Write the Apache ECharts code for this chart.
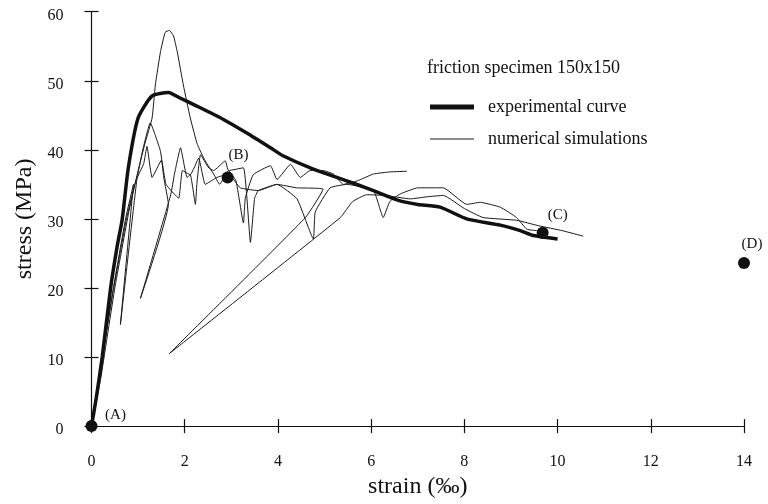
<!DOCTYPE html>
<html>
<head>
<meta charset="utf-8">
<script src="https://cdn.jsdelivr.net/npm/echarts@6/dist/echarts.min.js"></script>
<style>
  html, body { margin: 0; padding: 0; background: #fff; }
  #chart { width: 768px; height: 504px; }
</style>
</head>
<body>
<div id="chart"></div>
<script>
// Axis ticks
const strainTicks = [0, 2, 4, 6, 8, 10, 12, 14];
const stressTicks = [0, 10, 20, 30, 40, 50, 60];

// Experimental stress-strain curve [strain ‰, stress MPa]
const experimental = [
  [0, 0], [0.1, 4], [0.23, 10], [0.41, 20], [0.55, 26], [0.66, 30], [0.79, 37.4],
  [1.0, 44.6], [1.3, 47.8], [1.65, 48.3], [1.9, 47.5], [2.27, 46.3], [2.83, 44.4],
  [3.34, 42.4], [3.84, 40.3], [4.12, 39.1], [4.76, 37.2], [5.4, 35.7], [6.05, 34.1],
  [6.62, 32.6], [7.0, 32.1], [7.48, 31.7], [8.05, 30.0], [8.77, 29.1], [9.2, 28.3],
  [9.48, 27.6], [10.0, 27.1]
];

// Numerical simulations
const simulation1 = [
  [0, 0], [0.2, 7], [0.5, 20], [0.8, 31], [1.0, 37], [1.15, 41], [1.3, 44.6], [1.37, 49.4],
  [1.48, 54.2], [1.58, 57], [1.67, 57.3], [1.76, 56.5], [1.84, 54.2], [1.97, 49.4],
  [2.12, 44.6], [2.27, 40.8], [2.44, 38.4], [2.62, 36.5], [2.75, 35], [2.94, 37], [3.1, 35.5],
  [3.26, 29.4], [3.3, 33], [3.47, 36.4], [3.84, 37.7], [3.98, 35.7], [4.27, 37.9], [4.48, 36],
  [4.69, 37], [4.97, 37], [5.19, 36.5], [5.4, 35], [5.7, 35.5], [6.05, 36.5], [6.4, 36.8],
  [6.77, 36.9]
];
const simulation2 = [
  [0, 0], [0.47, 20], [0.73, 30], [0.9, 35], [0.62, 14.7], [0.97, 35.5], [1.1, 40],
  [1.26, 43.9], [1.48, 39.8], [1.55, 36], [1.65, 32.1], [1.05, 18.5], [1.7, 33.5],
  [1.78, 36.5], [1.91, 40.3], [2.05, 36], [2.12, 36.4], [2.23, 32.1], [2.26, 35],
  [2.34, 39.3], [2.5, 37.5], [2.62, 37], [2.87, 38.4], [2.94, 37], [3.26, 37.4],
  [3.41, 26.6], [3.5, 33], [3.58, 34.1], [3.98, 35], [4.41, 32.9], [4.76, 27.1], [4.8, 31],
  [5.12, 34.5], [5.48, 35], [6.05, 34.1], [6.26, 30.2], [6.4, 32.5], [6.62, 33.6],
  [7.0, 34.5], [7.33, 34.5], [7.55, 34.5], [8.05, 32.1], [8.34, 32.4], [8.77, 31.7],
  [9.12, 30.2], [9.34, 28.5], [9.58, 28.3]
];
const simulation3 = [
  [0, 0], [0.45, 19], [0.75, 30], [0.95, 35.5], [1.12, 38], [1.19, 40.5], [1.3, 36],
  [1.5, 38.5], [1.6, 35], [1.87, 33], [1.95, 37], [2.12, 36.4], [2.3, 38.8], [2.44, 35],
  [2.69, 36], [2.94, 36.5], [3.19, 34.5], [3.58, 34.1], [3.98, 35], [4.4, 34.5],
  [4.97, 34.3], [4.59, 30.2], [1.67, 10.5], [5.34, 30.2], [5.6, 32.5], [5.9, 33.5],
  [6.3, 33.4], [6.84, 32.9], [7.2, 33.2], [7.55, 33.4], [8.0, 31.5], [8.4, 30.2],
  [9.12, 29.8], [9.6, 29.0], [10.1, 28.3], [10.55, 27.5]
];

// Marked states
const pointNames = ['(A)', '(B)', '(C)', '(D)'];
const pointStrain = [0, 2.92, 9.68, 14.0];
const pointStress = [0, 36.0, 28.0, 23.6];

const serif = '"Liberation Serif", "DejaVu Serif", serif';
const ink = '#111';

const labelOffsets = [[24, -11], [11, -22], [15, -18], [8, -19]];

const simSeries = [simulation1, simulation2, simulation3].map(d => ({
  name: 'numerical simulations',
  type: 'line',
  data: d,
  symbol: 'none',
  smooth: 0.12,
  lineStyle: { color: '#1a1a1a', width: 1 },
  itemStyle: { color: '#1a1a1a' },
  z: 2,
  silent: true
}));

const baseX = {
  type: 'value', min: strainTicks[0], max: strainTicks[strainTicks.length - 1],
  interval: strainTicks[1] - strainTicks[0], position: 'bottom',
  splitLine: { show: false }
};
const baseY = {
  type: 'value', min: stressTicks[0], max: stressTicks[stressTicks.length - 1],
  interval: stressTicks[1] - stressTicks[0], position: 'left',
  splitLine: { show: false }
};

const legendBase = {
  orient: 'vertical',
  left: 430,
  padding: 0,
  icon: 'rect',
  itemWidth: 44,
  textStyle: { fontFamily: serif, fontSize: 18, color: ink, padding: [0, 0, 0, 9] },
  selectedMode: false
};

const option = {
  animation: false,
  backgroundColor: '#fff',
  title: {
    text: 'friction specimen 150x150',
    left: 427, top: 59, padding: 0,
    textStyle: { fontFamily: serif, fontSize: 18, fontWeight: 'normal', color: ink }
  },
  legend: [
    Object.assign({}, legendBase, { top: 98, itemHeight: 5, data: ['experimental curve'] }),
    Object.assign({}, legendBase, { top: 130, itemHeight: 1, data: ['numerical simulations'] })
  ],
  grid: { left: 91.5, right: 24, top: 11.7, bottom: 74 },
  xAxis: [
    Object.assign({}, baseX, {
      name: 'strain (‰)', nameLocation: 'middle', nameGap: 45,
      nameTextStyle: { fontFamily: serif, fontSize: 24, color: ink },
      axisLine: { onZero: false, lineStyle: { color: ink, width: 1.2 } },
      axisTick: { length: 7, lineStyle: { color: ink, width: 1.2 } },
      axisLabel: { margin: 28, fontFamily: serif, fontSize: 16, color: ink }
    }),
    Object.assign({}, baseX, {
      axisLine: { show: false },
      axisTick: { inside: true, length: 7, lineStyle: { color: ink, width: 1.2 } },
      axisLabel: { show: false }
    })
  ],
  yAxis: [
    Object.assign({}, baseY, {
      name: 'stress (MPa)', nameLocation: 'middle', nameGap: 54,
      nameTextStyle: { fontFamily: serif, fontSize: 24, color: ink },
      axisLine: { onZero: false, lineStyle: { color: ink, width: 1.2 } },
      axisTick: { length: 7, lineStyle: { color: ink, width: 1.2 } },
      axisLabel: {
        margin: 28, fontFamily: serif, fontSize: 16, color: ink,
        verticalAlign: 'top', lineHeight: 8
      }
    }),
    Object.assign({}, baseY, {
      axisLine: { show: false },
      axisTick: { inside: true, length: 7, lineStyle: { color: ink, width: 1.2 } },
      axisLabel: { show: false }
    })
  ],
  series: [
    {
      name: 'experimental curve',
      type: 'line',
      data: experimental,
      symbol: 'none',
      smooth: 0.2,
      lineStyle: { color: '#111', width: 3.5 },
      itemStyle: { color: '#111' },
      z: 3,
      silent: true
    },
    ...simSeries,
    {
      name: 'states',
      type: 'scatter',
      symbolSize: 12,
      clip: false,
      itemStyle: { color: '#111', opacity: 1 },
      data: pointNames.map((n, i) => ({
        name: n,
        value: [pointStrain[i], pointStress[i]],
        label: {
          show: true, position: 'inside', formatter: '{b}',
          offset: labelOffsets[i],
          fontFamily: serif, fontSize: 15, color: ink
        }
      })),
      z: 4
    }
  ]
};

const chart = echarts.init(document.getElementById('chart'), null, { renderer: 'canvas' });
chart.setOption(option);
</script>
</body>
</html>
